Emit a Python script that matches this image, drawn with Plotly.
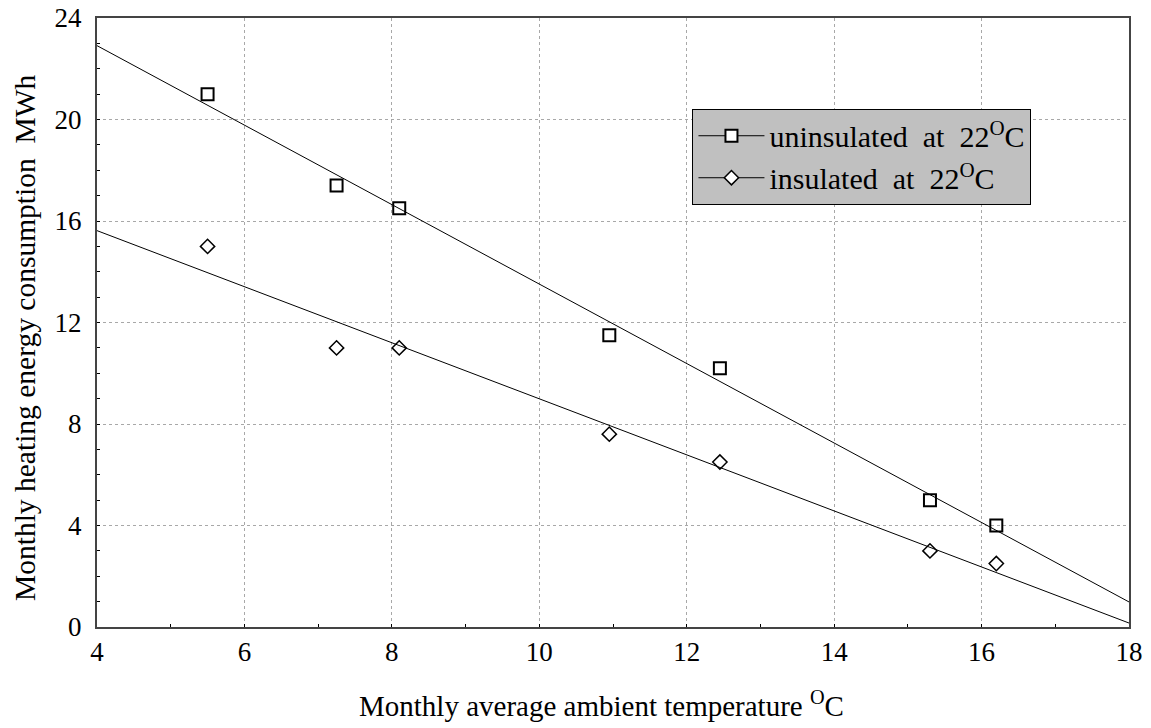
import numpy as np
import plotly.graph_objects as go

temps = [5.5, 7.25, 8.1, 10.95, 12.45, 15.3, 16.2]
uninsulated = [21.0, 17.4, 16.5, 11.5, 10.2, 5.0, 4.0]
insulated = [15.0, 11.0, 11.0, 7.6, 6.5, 3.0, 2.5]
x_ticks = [4, 6, 8, 10, 12, 14, 16, 18]
y_ticks = [0, 4, 8, 12, 16, 20, 24]
names = ["uninsulated  at  22<sup>O</sup>C", "insulated  at  22<sup>O</sup>C"]
x_title = "Monthly average ambient temperature <sup>O</sup>C"
y_title = "Monthly heating energy consumption  MWh"

FONT = "Liberation Serif, Times New Roman, serif"
fit_x = np.array([4.0, 18.0])

fig = go.Figure()
series = [(uninsulated, "square-open", 12, 2), (insulated, "diamond-open", 11, 1.5)]
for (vals, sym, sz, lw), name in zip(series, names):
    slope, icpt = np.polyfit(temps, vals, 1)
    fig.add_trace(go.Scatter(x=fit_x, y=slope * fit_x + icpt, mode="lines",
                             line=dict(color="black", width=1), showlegend=False,
                             hoverinfo="skip"))
    fig.add_trace(go.Scatter(x=temps, y=vals, mode="markers", showlegend=False,
                             marker=dict(symbol=sym, size=sz, color="black",
                                         line=dict(color="black", width=lw))))
    fig.add_trace(go.Scatter(x=[None], y=[None], mode="lines+markers", name=name,
                             line=dict(color="black", width=1),
                             marker=dict(symbol=sym.replace("-open", ""), size=sz,
                                         color="white",
                                         line=dict(color="black", width=lw))))

axis_common = dict(
    showgrid=True, gridcolor="#a8a8a8", griddash="dot", gridwidth=1,
    showline=True, linecolor="#444444", linewidth=2, mirror=True,
    ticks="inside", ticklen=3, tickcolor="black", zeroline=False,
    tickfont=dict(family=FONT, size=27, color="black"), automargin=False,
    ticklabeloverflow="allow",
)

fig.update_xaxes(range=[4, 18], tickvals=x_ticks,
                 minor=dict(dtick=1, ticks="inside", ticklen=3, tickcolor="black", showgrid=False),
                 **axis_common)
fig.update_yaxes(range=[0, 24], tickvals=y_ticks, ticklabelstandoff=8,
                 minor=dict(dtick=1, ticks="inside", ticklen=3, tickcolor="black", showgrid=False),
                 **axis_common)

# axis titles as annotations (reference titles are not centred on the plot)
fig.add_annotation(text=x_title, xref="paper", yref="paper", x=(601 - 97) / 1032, y=0,
                   yshift=-(724 - 627), xanchor="center", yanchor="bottom", showarrow=False,
                   font=dict(family=FONT, size=29, color="black"))
fig.add_annotation(text=y_title, xref="paper", yref="paper", x=0, xshift=-72,
                   y=(627 - 338) / 609, xanchor="center", yanchor="middle", textangle=-90,
                   showarrow=False, font=dict(family=FONT, size=29.5, color="black"))

# page body has an 8px margin, so the figure is shrunk accordingly
# plot area on page: x 97..1129, y 18..627
fig.update_layout(
    width=1143, height=720,
    margin=dict(l=89, r=22, t=10, b=101),
    plot_bgcolor="white", paper_bgcolor="white",
    font=dict(family=FONT, size=27, color="black"),
    legend=dict(x=0.577, y=0.851, xanchor="left", yanchor="top",
                bgcolor="#c0c0c0", bordercolor="black", borderwidth=1,
                font=dict(family=FONT, size=30, color="black"),
                tracegroupgap=0, itemwidth=66),
)

fig.write_html("out.html")
